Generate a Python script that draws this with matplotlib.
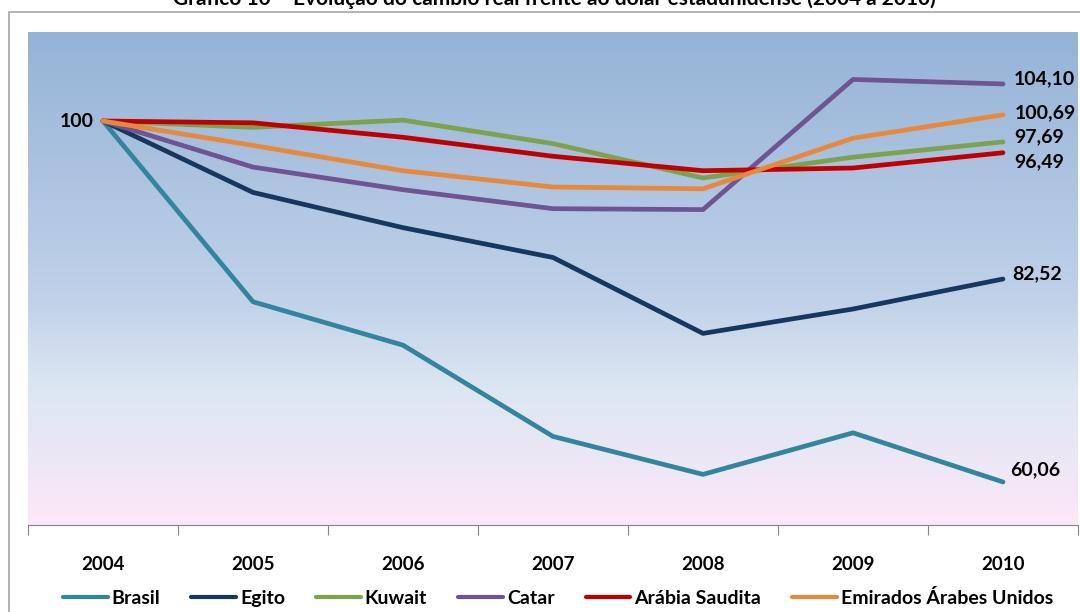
import matplotlib
matplotlib.use("Agg")
import matplotlib.pyplot as plt
import numpy as np
from matplotlib.patches import Rectangle

plt.rcParams['font.family'] = ['Lato', 'DejaVu Sans']

years = ["2004", "2005", "2006", "2007", "2008", "2009", "2010"]

brasil = [100, 80.0, 75.2, 65.1, 60.9, 65.5, 60.06]
egito = [100, 92.1, 88.2, 84.9, 76.5, 79.2, 82.52]
kuwait = [100, 99.3, 100.1, 97.5, 93.7, 96.0, 97.69]
catar = [100, 94.9, 92.4, 90.3, 90.2, 104.6, 104.10]
arabia = [100, 99.8, 98.2, 96.1, 94.5, 94.8, 96.49]
emirados = [100, 97.3, 94.5, 92.7, 92.5, 98.1, 100.69]

series_names = ["Brasil", "Egito", "Kuwait", "Catar", "Arábia Saudita",
                "Emirados Árabes Unidos"]
series_values = [brasil, egito, kuwait, catar, arabia, emirados]
colors = ["#31859C", "#17375E", "#7EA24B", "#705491", "#C00000", "#E6893C"]

# pixel offsets for the end-of-line labels (same order as series)
label_offsets = [(7, 12), (9, 5), (11, 5), (11, 5), (11, -9), (12, 2)]


def main():
    fig = plt.figure(figsize=(10.8, 6.12), dpi=100)

    # outer chart frame
    fig.patches.append(Rectangle((9 / 1080, -0.1), 1.2, 1 - 12 / 612 + 0.1,
                                 transform=fig.transFigure, fill=False,
                                 edgecolor="#A6A6A6", linewidth=1.2))

    fig.text(554 / 1080, 1 + 1 / 612,
             "Gráfico 10 – Evolução do câmbio real frente ao dólar "
             "estadunidense (2004 a 2010)",
             ha="center", va="center", fontsize=15, fontweight="bold")

    ax = fig.add_axes([28 / 1080, 1 - 525 / 612, 1050 / 1080, 493 / 612])
    x = np.arange(len(years))
    ymin, ymax = 55.3, 109.85

    # gradient background: blue on top, pale blue, then pink at the bottom
    stops = [0, 0.55, 0.72, 1]
    stop_cols = np.array([[149, 179, 215], [193, 210, 233],
                          [220, 230, 242], [252, 232, 248]]) / 255
    t = np.linspace(0, 1, 256)
    grad = np.stack([np.interp(t, stops, stop_cols[:, i]) for i in range(3)],
                    axis=-1)[:, None, :]
    ax.imshow(grad, extent=[-0.5, 6.5, ymin, ymax], aspect="auto",
              origin="upper", zorder=0)

    for name, vals, col in zip(series_names, series_values, colors):
        ax.plot(x, vals, color=col, linewidth=3.4, label=name, zorder=3,
                solid_capstyle="round")

    ax.annotate("100", (0, 100), xytext=(-9, 0), textcoords="offset pixels",
                ha="right", va="center", fontsize=14, fontweight="bold")
    for vals, off in zip(series_values, label_offsets):
        ax.annotate(f"{vals[-1]:.2f}".replace(".", ","), (6, vals[-1]),
                    xytext=off, textcoords="offset pixels", ha="left",
                    va="center", fontsize=14, fontweight="bold")

    ax.set_xlim(-0.5, 6.5)
    ax.set_ylim(ymin, ymax)
    ax.set_yticks([])
    ax.set_xticks(np.arange(-0.5, 7, 1))
    ax.set_xticklabels([])
    ax.set_xticks(x, minor=True)
    ax.set_xticklabels(years, minor=True, fontsize=13.5, fontweight="bold")
    ax.tick_params(axis="x", which="major", length=7, color="#868686",
                   direction="out")
    ax.tick_params(axis="x", which="minor", length=0, pad=22)
    for side in ["top", "right", "left"]:
        ax.spines[side].set_visible(False)
    ax.spines["bottom"].set_color("#868686")

    leg = fig.legend(loc="center", bbox_to_anchor=(558 / 1080, 1 - 598 / 612),
                     ncol=6, frameon=False, handlelength=2.3,
                     columnspacing=1.6, handletextpad=0.2,
                     prop={"weight": "bold", "size": 14})
    for line in leg.get_lines():
        line.set_linewidth(3)

    fig.savefig("out.png", dpi=100)


if __name__ == "__main__":
    main()
